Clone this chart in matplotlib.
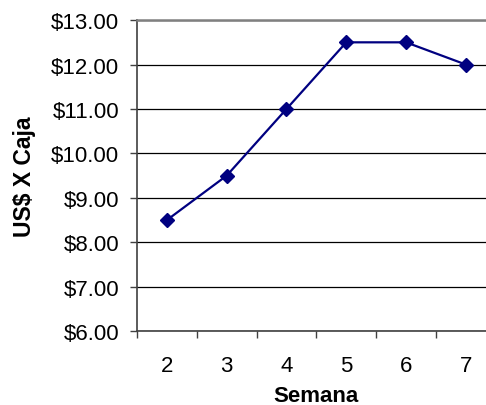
import matplotlib.pyplot as plt
import numpy as np

plt.rcParams['font.family'] = ['Liberation Sans', 'DejaVu Sans']

# datos
semanas = [2, 3, 4, 5, 6, 7]
precio = [8.5, 9.5, 11.0, 12.5, 12.5, 12.0]
y_ticks = [6, 7, 8, 9, 10, 11, 12, 13]

fig = plt.figure(figsize=(4.86, 4.06), dpi=100)
ax = fig.add_axes([0.282, 0.182, 0.738, 0.766])

x = np.arange(len(semanas))
ax.plot(x, precio, color='#000080', linewidth=1.6, marker='D', markersize=7.5,
        markerfacecolor='#000080', markeredgecolor='#000080', zorder=3)

ax.set_xlim(-0.5, len(semanas) - 0.5)
ax.set_ylim(6, 13)

# ticks en los bordes de categoria, etiquetas en el centro
ax.set_xticks(np.arange(len(semanas) + 1) - 0.5)
ax.set_xticklabels([])
ax.set_xticks(x, minor=True)
ax.set_xticklabels([str(s) for s in semanas], minor=True, fontsize=16)
ax.tick_params(axis='x', which='major', length=5, width=1, color='#404040', direction='out')
ax.tick_params(axis='x', which='minor', length=0, pad=17)

ax.set_yticks(y_ticks)
ax.set_yticklabels([f'${v:.2f}' for v in y_ticks], fontsize=16)
ax.tick_params(axis='y', length=5, width=1, color='#404040', direction='out', pad=8)

ax.yaxis.grid(True, color='black', linewidth=0.9)
ax.set_axisbelow(True)

for s in ['left', 'bottom']:
    ax.spines[s].set_color('#404040')
    ax.spines[s].set_linewidth(1.2)
ax.spines['top'].set_color('#808080')
ax.spines['top'].set_linewidth(1.8)
ax.spines['right'].set_visible(False)

ax.set_xlabel('Semana', fontsize=16, fontweight='bold', labelpad=7)
ax.set_ylabel('US$ X Caja', fontsize=16.5, fontweight='bold', labelpad=11)

plt.savefig('out.png', dpi=100)
